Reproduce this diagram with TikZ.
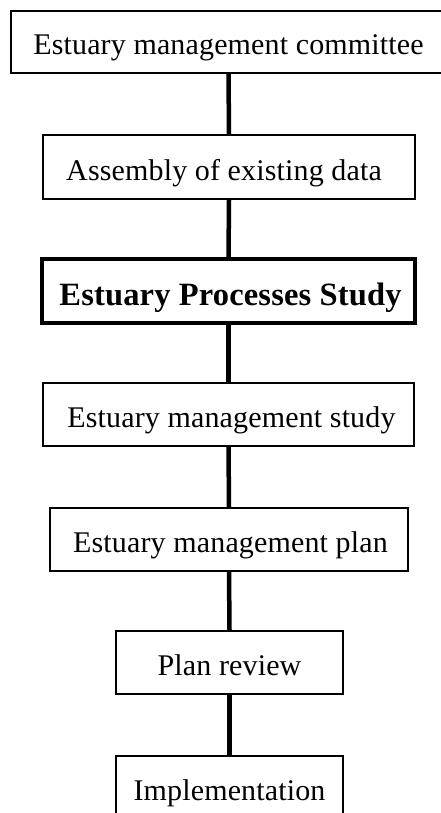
\documentclass[tikz,border=0pt]{standalone}
\usepackage{fontspec}
\setmainfont{Liberation Serif}[LetterSpace=0.5]
\begin{document}
\begin{tikzpicture}[x=1pt,y=-1pt,
  box/.style={draw, line width=2pt, rectangle, inner sep=0pt, align=center,
    font=\fontsize{30}{34}\selectfont, text height=26pt, text depth=0pt},
  keybox/.style={box, line width=4pt, font=\fontsize{32.5}{36}\selectfont\bfseries, text height=28pt},
  link/.style={line width=4.5pt}]
\useasboundingbox (0,0) rectangle (440,813);
\node[box, minimum width=435pt, minimum height=62pt] (b1) at (228.5,42) {Estuary management committee};
\node[box, minimum width=372pt, minimum height=64pt] (b2) at (229,167) {\hspace*{-10pt}Assembly of existing data};
\node[keybox, minimum width=373pt, minimum height=64pt] (b3) at (228.5,291) {\hspace*{4pt}Estuary Processes Study};
\node[box, minimum width=371pt, minimum height=63pt] (b4) at (228.5,414.5) {\hspace*{6pt}Estuary management study};
\node[box, minimum width=358pt, minimum height=63pt] (b5) at (229,539.5) {\hspace*{3pt}Estuary management plan};
\node[box, minimum width=227pt, minimum height=63pt] (b6) at (229.5,662.5) {Plan review};
\node[box, minimum width=227pt, minimum height=63pt] (b7) at (229.5,787.5) {Implementation};
\draw[link] (b1.south) -- (b2.north);
\draw[link] (b2.south) -- (b3.north);
\draw[link] (b3.south) -- (b4.north);
\draw[link] (b4.south) -- (b5.north);
\draw[link] (b5.south) -- (b6.north);
\draw[link] (b6.south) -- (b7.north);
\end{tikzpicture}
\end{document}
